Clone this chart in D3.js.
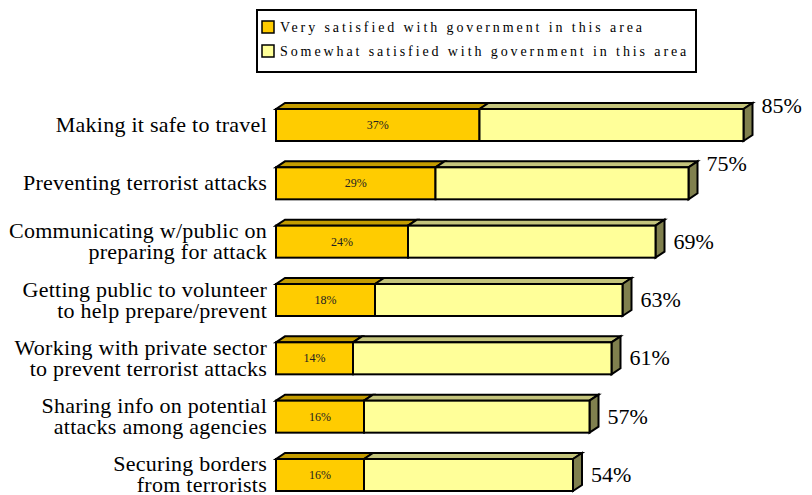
<!DOCTYPE html>
<html>
<head>
<meta charset="utf-8">
<script src="https://cdn.jsdelivr.net/npm/d3@7/dist/d3.min.js"></script>
<style>
  html, body { margin: 0; padding: 0; background: #fff; }
  svg { display: block; }
</style>
</head>
<body>
<svg id="chart" width="812" height="495" font-family="'Liberation Serif', 'DejaVu Serif', serif"></svg>
<script>
// Satisfaction with government, by area (percent)
const categories = [
  ["Making it safe to travel"],
  ["Preventing terrorist attacks"],
  ["Communicating w/public on", "preparing for attack"],
  ["Getting public to volunteer", "to help prepare/prevent"],
  ["Working with private sector", "to prevent terrorist attacks"],
  ["Sharing info on potential", "attacks among agencies"],
  ["Securing borders", "from terrorists"]
];
const verySatisfied = [37, 29, 24, 18, 14, 16, 16];
const totalSatisfied = [85, 75, 69, 63, 61, 57, 54];
const seriesNames = [
  "Very satisfied with government in this area",
  "Somewhat satisfied with government in this area"
];

const svg = d3.select("#chart");

// Colours for the two series: front, top and side faces
const faces = {
  very: { front: "#FFCC00", top: "#C49C00" },
  some: { front: "#FFFF99", top: "#C4C47C", side: "#80804E" }
};

const depthX = 9, depthY = 6;

const ids = categories.map((c, i) => i);
const x = d3.scaleLinear().domain([0, 100]).range([276, 826]);
const y = d3.scaleBand().domain(ids).range([109, 491]).paddingInner(0.4514).paddingOuter(0);
const h = y.bandwidth();

const bars = svg.append("g").attr("class", "bars");

function topFace(x0, x1, yTop) {
  return [[x0, yTop], [x0 + depthX, yTop - depthY], [x1 + depthX, yTop - depthY], [x1, yTop]];
}
function sideFace(x1, yTop) {
  return [[x1, yTop], [x1 + depthX, yTop - depthY], [x1 + depthX, yTop + h - depthY], [x1, yTop + h]];
}
const line = d3.line();

ids.forEach(i => {
  const yTop = y(i);
  const xa = x(0), xb = x(verySatisfied[i]), xc = x(totalSatisfied[i]);
  const g = bars.append("g")
    .attr("stroke", "#000").attr("stroke-width", 2).attr("stroke-linejoin", "miter");

  const addPoly = (pts, fill) => g.append("path").attr("d", line(pts) + "Z").attr("fill", fill);
  const addRect = (x0, x1, fill) => g.append("rect")
    .attr("x", x0).attr("y", yTop).attr("width", x1 - x0).attr("height", h).attr("fill", fill);

  addPoly(topFace(xa, xb, yTop), faces.very.top);
  addPoly(topFace(xb, xc, yTop), faces.some.top);
  addPoly(sideFace(xc, yTop), faces.some.side);
  addRect(xa, xb, faces.very.front);
  addRect(xb, xc, faces.some.front);

  // value of the darker segment, inside it
  g.append("text")
    .attr("stroke", "none")
    .attr("x", (xa + xb) / 2)
    .attr("y", yTop + h / 2 + 4)
    .attr("text-anchor", "middle")
    .attr("font-size", 12)
    .attr("fill", "#222")
    .text(verySatisfied[i] + "%");

  // total to the right of the bar; the two longest bars carry it a little higher
  const lift = i < 2 ? 19 : 0;
  g.append("text")
    .attr("stroke", "none")
    .attr("x", xc + depthX + 9)
    .attr("y", yTop + h / 2 + 7 - lift)
    .attr("font-size", 22)
    .attr("fill", "#000")
    .text(totalSatisfied[i] + "%");
});

// category labels, right-aligned beside the bars
const labels = svg.append("g").attr("class", "labels");
ids.forEach(i => {
  const lines = categories[i];
  const cy = y(i) + h / 2;
  const lh = 21;
  const t = labels.append("text")
    .attr("text-anchor", "end")
    .attr("font-size", 22)
    .attr("letter-spacing", 0.25)
    .attr("fill", "#000");
  lines.forEach((s, k) => {
    t.append("tspan")
      .attr("x", 267)
      .attr("y", cy + 7 + (k - (lines.length - 1) / 2) * lh)
      .text(s);
  });
});

// legend
const legend = svg.append("g").attr("class", "legend");
legend.append("rect")
  .attr("x", 257).attr("y", 10).attr("width", 439).attr("height", 62)
  .attr("fill", "#fff").attr("stroke", "#000").attr("stroke-width", 2);
const swatchFill = [faces.very.front, faces.some.front];
seriesNames.forEach((name, k) => {
  const cy = 27 + k * 24;
  legend.append("rect")
    .attr("x", 262).attr("y", cy - 6).attr("width", 12).attr("height", 12)
    .attr("fill", swatchFill[k]).attr("stroke", "#000").attr("stroke-width", 1.5);
  legend.append("text")
    .attr("x", 280).attr("y", cy + 5)
    .attr("font-size", 14)
    .attr("letter-spacing", 2.9)
    .attr("fill", "#000")
    .text(name);
});
</script>
</body>
</html>
